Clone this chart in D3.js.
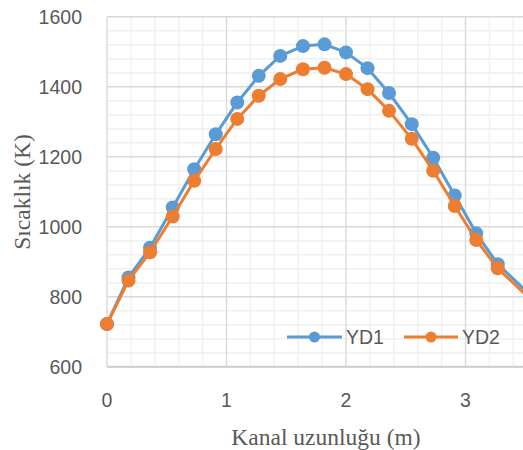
<!DOCTYPE html>
<html><head><meta charset="utf-8">
<script src="https://cdn.jsdelivr.net/npm/d3@7"></script>
<style>html,body{margin:0;padding:0;background:#fff;overflow:hidden}</style>
</head><body>
<svg id="c" width="523" height="450"></svg>
<script>
const xs  = [0, 0.18, 0.36, 0.55, 0.73, 0.91, 1.09, 1.27, 1.45, 1.64, 1.82, 2.0, 2.18, 2.36, 2.55, 2.73, 2.91, 3.09, 3.27, 3.6];
const yd1 = [722, 855, 940, 1055, 1164, 1264, 1355, 1431, 1488, 1516, 1521, 1498, 1453, 1382, 1293, 1197, 1089, 981, 893, 786];
const yd2 = [722, 846, 927, 1029, 1131, 1222, 1308, 1374, 1422, 1450, 1454, 1436, 1393, 1331, 1251, 1160, 1059, 962, 881, 775];
const seriesNames = ["YD1", "YD2"];
const colors = ["#5B9BD5", "#ED7D31"];
const xTicks = [0, 1, 2, 3];
const yTicks = [600, 800, 1000, 1200, 1400, 1600];

const svg = d3.select("#c");
const L = 107, T = 16.7, B = 366.7;
const x = d3.scaleLinear().domain([0, 3.5]).range([L, L + 3.5 * 119.5]);
const y = d3.scaleLinear().domain([600, 1600]).range([B, T]);
const R = x(3.5);

const g = svg.append("g");
// minor grid
const xMinor = d3.range(0, 3.5, 0.2).filter(v => Math.abs(v - Math.round(v)) > 1e-6);
const yMinor = d3.range(600, 1600, 40).filter(v => v % 200 !== 0);
g.selectAll(".vmin").data(xMinor).join("line")
  .attr("x1", d => x(d)).attr("x2", d => x(d)).attr("y1", T).attr("y2", B)
  .attr("stroke", "#f0f0f0").attr("stroke-width", 1.4);
g.selectAll(".hmin").data(yMinor).join("line")
  .attr("x1", L).attr("x2", R).attr("y1", d => y(d)).attr("y2", d => y(d))
  .attr("stroke", "#f0f0f0").attr("stroke-width", 1.4);
// major grid
g.selectAll(".vmaj").data(xTicks).join("line")
  .attr("x1", d => x(d)).attr("x2", d => x(d)).attr("y1", T).attr("y2", B)
  .attr("stroke", "#d9d9d9").attr("stroke-width", 1.4);
g.selectAll(".hmaj").data(yTicks).join("line")
  .attr("x1", L).attr("x2", R).attr("y1", d => y(d)).attr("y2", d => y(d))
  .attr("stroke", "#d9d9d9").attr("stroke-width", 1.4);
// bottom axis line
g.append("line").attr("x1", L).attr("x2", R).attr("y1", B).attr("y2", B)
  .attr("stroke", "#cfcfcf").attr("stroke-width", 2);

// tick labels
svg.selectAll(".yt").data(yTicks).join("text")
  .attr("x", 82).attr("y", d => y(d) + 7)
  .attr("text-anchor", "end").attr("font-family", "Liberation Sans, Arial, sans-serif")
  .attr("font-size", 19.5).attr("fill", "#595959").text(d => d);
svg.selectAll(".xt").data(xTicks).join("text")
  .attr("x", d => x(d)).attr("y", 407)
  .attr("text-anchor", "middle").attr("font-family", "Liberation Sans, Arial, sans-serif")
  .attr("font-size", 19.5).attr("fill", "#595959").text(d => d);

// axis titles
svg.append("text").attr("x", 326).attr("y", 445).attr("text-anchor", "middle")
  .attr("font-family", "Liberation Serif, Times New Roman, serif").attr("font-size", 23.5)
  .attr("fill", "#595959").text("Kanal uzunluğu (m)");
svg.append("text").attr("transform", "translate(30,192) rotate(-90)").attr("text-anchor", "middle")
  .attr("font-family", "Liberation Serif, Times New Roman, serif").attr("font-size", 23.5)
  .attr("fill", "#595959").text("Sıcaklık (K)");

// series
const series = [yd1, yd2];
const line = d3.line().x((d, i) => x(xs[i])).y(d => y(d));
series.forEach((vals, si) => {
  svg.append("path").datum(vals).attr("d", line).attr("fill", "none")
    .attr("stroke", colors[si]).attr("stroke-width", 3).attr("stroke-linejoin", "round");
  svg.selectAll(".m" + si).data(vals).join("circle")
    .attr("cx", (d, i) => x(xs[i])).attr("cy", d => y(d)).attr("r", 7)
    .attr("fill", colors[si]);
});

// legend
const leg = [{x0: 287, x1: 342, tx: 346}, {x0: 404, x1: 458, tx: 462}];
const ly = 337;
seriesNames.forEach((n, i) => {
  svg.append("line").attr("x1", leg[i].x0).attr("x2", leg[i].x1).attr("y1", ly).attr("y2", ly)
    .attr("stroke", colors[i]).attr("stroke-width", 3);
  svg.append("circle").attr("cx", (leg[i].x0 + leg[i].x1) / 2).attr("cy", ly).attr("r", 5.5)
    .attr("fill", colors[i]);
  svg.append("text").attr("x", leg[i].tx).attr("y", ly + 7)
    .attr("font-family", "Liberation Sans, Arial, sans-serif").attr("font-size", 19.5)
    .attr("fill", "#595959").text(n);
});
</script>
</body></html>
